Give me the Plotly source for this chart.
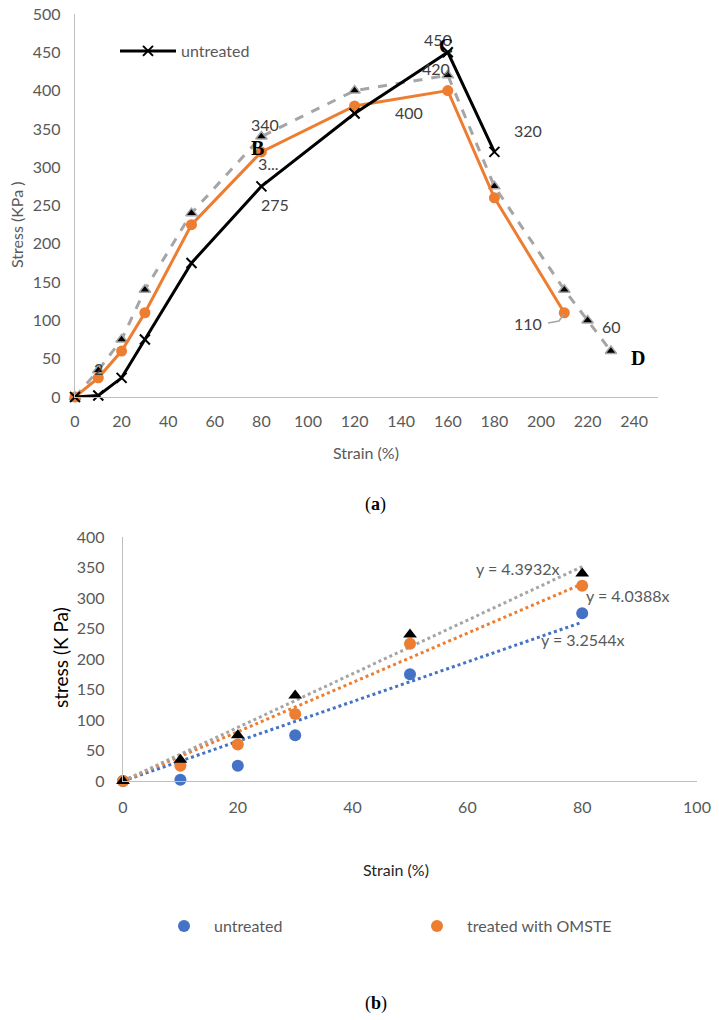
import plotly.graph_objects as go
import numpy as np

# ---------------- data: panel (a) ----------------
strain_untreated = [0, 10, 20, 30, 50, 80, 120, 160, 180]
stress_untreated = [0, 2, 25, 75, 175, 275, 370, 450, 320]
strain_omste = [0, 10, 20, 30, 50, 80, 120, 160, 180, 210]
stress_omste = [0, 25, 60, 110, 225, 320, 380, 400, 260, 110]
strain_third = [0, 10, 20, 30, 50, 80, 120, 160, 180, 210, 220, 230]
stress_third = [0, 35, 75, 140, 240, 340, 400, 420, 275, 140, 100, 60]

# ---------------- data: panel (b) ----------------
fit_strain = [0, 10, 20, 30, 50, 80]
fit_untreated = [0, 2, 25, 75, 175, 275]
fit_omste = [0, 25, 60, 110, 225, 320]
fit_third = [0, 35, 75, 140, 240, 340]
eq_labels = ["y = 3.2544x", "y = 4.0388x", "y = 4.3932x"]

top_xticks = list(range(0, 241, 20))
top_yticks = list(range(0, 501, 50))
bot_xticks = [0, 20, 40, 60, 80, 100]
bot_yticks = list(range(0, 401, 50))

# the page body has an 8px margin, so the figure is drawn 8px smaller
OFF = 8
W, H = 719 - OFF, 1020 - OFF
FONT = "Lato"
GREY_T = "#595959"
AX = "#BFBFBF"
BLUE, ORANGE, GREY, BLACK = "#4472C4", "#ED7D31", "#A5A5A5", "#000000"


def px(x):
    return (x - OFF) / W


def py(y):
    return 1 - (y - OFF) / H


fig = go.Figure()

# panel (a)
fig.add_trace(go.Scatter(x=strain_third, y=stress_third, mode="lines+markers",
                         line=dict(color=GREY, width=3, dash="dash"),
                         marker=dict(symbol="triangle-up", size=10, color=BLACK,
                                     line=dict(color=GREY, width=1.5)),
                         showlegend=False, cliponaxis=False, xaxis="x", yaxis="y"))
fig.add_trace(go.Scatter(x=strain_omste, y=stress_omste, mode="lines+markers",
                         line=dict(color=ORANGE, width=3),
                         marker=dict(symbol="circle", size=11, color=ORANGE),
                         showlegend=False, cliponaxis=False, xaxis="x", yaxis="y"))
fig.add_trace(go.Scatter(x=strain_untreated, y=stress_untreated, mode="lines+markers",
                         name="untreated", legend="legend",
                         line=dict(color=BLACK, width=3),
                         marker=dict(symbol="x-thin", size=10, color=BLACK,
                                     line=dict(color=BLACK, width=2)),
                         showlegend=True, cliponaxis=False, xaxis="x", yaxis="y"))

# panel (b): trendlines through origin fitted from the data
xs = np.array(fit_strain, dtype=float)
for ys, col in [(fit_untreated, BLUE), (fit_omste, ORANGE), (fit_third, GREY)]:
    ys = np.array(ys, dtype=float)
    slope = (xs * ys).sum() / (xs * xs).sum()
    fig.add_trace(go.Scatter(x=[0, 80], y=[0, slope * 80], mode="lines",
                             line=dict(color=col, width=3, dash="dot"),
                             showlegend=False, hoverinfo="skip", cliponaxis=False,
                             xaxis="x2", yaxis="y2"))

fig.add_trace(go.Scatter(x=fit_strain, y=fit_untreated, mode="markers", name="untreated",
                         legend="legend2", marker=dict(symbol="circle", size=12, color=BLUE),
                         cliponaxis=False, xaxis="x2", yaxis="y2"))
fig.add_trace(go.Scatter(x=fit_strain, y=fit_omste, mode="markers", name="treated with OMSTE",
                         legend="legend2", marker=dict(symbol="circle", size=12, color=ORANGE),
                         cliponaxis=False, xaxis="x2", yaxis="y2"))
fig.add_trace(go.Scatter(x=fit_strain, y=fit_third, mode="markers", showlegend=False,
                         marker=dict(symbol="triangle-up", size=12, color=BLACK),
                         cliponaxis=False, xaxis="x2", yaxis="y2"))

tickfont = dict(family=FONT, size=16, color=GREY_T)
axcommon = dict(showline=True, linecolor=AX, linewidth=1.3, showgrid=False, zeroline=False,
                ticks="", tickfont=tickfont, fixedrange=True, automargin=False,
                ticklabeloverflow="allow")

ann = []


def lab(x, y, text, ref="", size=16, color="#404040", family=FONT, **kw):
    ann.append(dict(x=x, y=y, xref="x" + ref, yref="y" + ref, text=text, showarrow=False,
                    xanchor="center", yanchor="middle",
                    font=dict(family=family, size=size, color=color), **kw))


def plab(x, y, text, size=16, color="#404040", family=FONT, **kw):
    ann.append(dict(x=px(x), y=py(y), xref="paper", yref="paper", text=text, showarrow=False,
                    xanchor="center", yanchor="middle",
                    font=dict(family=family, size=size, color=color), **kw))


# panel (a) data labels (positions converted from picture pixels)
def a_xy(pxx, pyy):
    return (pxx - 75) / 2.33, (397 - pyy) / 0.766


SER = "Liberation Serif"
for (pxx, pyy, t) in [(438, 40, "450"), (436, 69, "420"), (409, 113, "400"), (528, 131, "320"),
                      (265, 125, "340"), (268, 164, "3..."), (275, 205, "275"), (98, 369, "2"),
                      (528, 324, "110"), (611, 327, "60")]:
    x, y = a_xy(pxx, pyy)
    lab(x, y, t)
for (pxx, pyy, t) in [(446, 46, "<b>C</b>"), (257, 148, "<b>B</b>"), (638, 358, "<b>D</b>")]:
    x, y = a_xy(pxx, pyy)
    lab(x, y, t, size=20, color=BLACK, family=SER)
x, y = a_xy(157, 401)
lab(x, y, "<b><u>A</u></b>", size=20, color="#00868B", family=SER)

# panel (b) equation labels
def b_xy(pxx, pyy):
    return (pxx - 123) / 5.74, (781 - pyy) / 0.61


for (pxx, pyy), t in zip([(583, 639), (628, 595), (518, 568)], eq_labels):
    x, y = b_xy(pxx, pyy)
    lab(x, y, t, ref="2", color=GREY_T)

# axis titles and captions
plab(17, 225, "Stress (KPa )", size=16, color=GREY_T, textangle=-90)
plab(366, 452, "Strain (%)", size=16, color=GREY_T)
plab(375, 505, "(<b>a</b>)", size=18, color=BLACK, family=SER)
plab(60, 658, "stress (K Pa)", size=19, color=BLACK, textangle=-90)
plab(396, 869, "Strain (%)", size=16, color="#262626")
plab(376, 1003, "(<b>b</b>)", size=18, color=BLACK, family=SER)

x0, y0 = a_xy(548, 323)
x1, y1 = a_xy(559, 321)
x2, y2 = a_xy(564, 314)
shapes = [dict(type="path", xref="x", yref="y", path=f"M{x0},{y0} L{x1},{y1} L{x2},{y2}",
               line=dict(color=GREY, width=1.5))]

fig.update_layout(
    width=W, height=H, margin=dict(l=0, r=0, t=0, b=0, autoexpand=False),
    paper_bgcolor="white", plot_bgcolor="white",
    xaxis=dict(domain=[px(75), px(657.5)], range=[0, 250], tickvals=top_xticks,
               anchor="y", ticklabelstandoff=10, **axcommon),
    yaxis=dict(domain=[py(397), py(14)], range=[0, 500], tickvals=top_yticks,
               anchor="x", ticklabelstandoff=10, **axcommon),
    xaxis2=dict(domain=[px(123), px(697)], range=[0, 100], tickvals=bot_xticks,
                anchor="y2", ticklabelstandoff=12, **axcommon),
    yaxis2=dict(domain=[py(781), py(537)], range=[0, 400], tickvals=bot_yticks,
                anchor="x2", ticklabelstandoff=14, **axcommon),
    legend=dict(x=px(115), y=py(51), xanchor="left", yanchor="middle", bgcolor="rgba(0,0,0,0)",
                font=dict(family=FONT, size=16, color=GREY_T), itemwidth=56),
    legend2=dict(x=px(154), y=py(926), xanchor="left", yanchor="middle", orientation="h",
                 bgcolor="rgba(0,0,0,0)", font=dict(family=FONT, size=16, color=GREY_T),
                 itemwidth=50, entrywidth=188, entrywidthmode="pixels"),
    annotations=ann, shapes=shapes, showlegend=True,
)

fig.write_html("out.html")
